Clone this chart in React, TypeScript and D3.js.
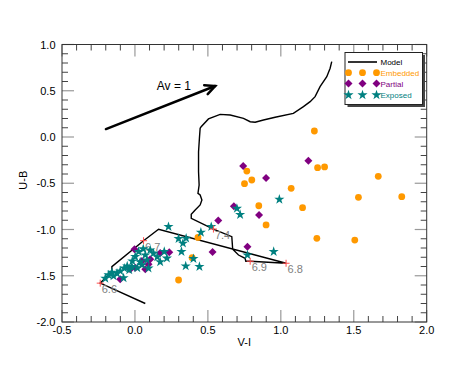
import React from "react";
import * as d3 from "d3";

const modelX = [0.071, -0.238, -0.169, -0.158, -0.158, 0.059, 0.162, 1.036, 0.790, 0.760, 0.755, 0.710, 0.670, 0.664, 0.538, 0.386, 0.386, 0.413, 0.447, 0.459, 0.447, 0.432, 0.440, 0.436, 0.436, 0.442, 0.447, 0.454, 0.504, 0.584, 0.653, 0.744, 0.790, 0.824, 0.881, 0.961, 1.086, 1.155, 1.201, 1.235, 1.269, 1.315, 1.338, 1.349];
const modelY = [-1.80, -1.58, -1.474, -1.438, -1.402, -1.121, -0.998, -1.365, -1.343, -1.343, -1.311, -1.276, -1.214, -1.078, -0.995, -0.879, -0.836, -0.789, -0.735, -0.681, -0.627, -0.609, -0.519, -0.375, -0.159, -0.014, 0.094, 0.111, 0.195, 0.245, 0.238, 0.202, 0.165, 0.159, 0.184, 0.213, 0.256, 0.328, 0.382, 0.436, 0.544, 0.652, 0.743, 0.814];

const ageLabels = ["6.6", "6.7", "6.8", "6.9", "7.4"];
const ageX = [-0.238, 0.059, 1.036, 0.790, 0.538];
const ageY = [-1.58, -1.121, -1.365, -1.343, -0.995];

const embX = [1.230, 0.767, 1.252, 1.300, 0.801, 0.751, 1.071, 1.668, 1.532, 1.829, 0.849, 1.149, 0.899, 1.247, 1.507, 0.432, 0.392, 0.299];
const embY = [0.065, -0.368, -0.332, -0.324, -0.465, -0.505, -0.555, -0.425, -0.652, -0.645, -0.743, -0.764, -0.951, -1.095, -1.114, -1.086, -1.305, -1.546];

const parX = [0.742, 1.189, 0.899, 0.678, 0.851, 0.571, 0.771, 0.532, -0.003, 0.048, 0.071, 0.002, -0.032, -0.101, 0.105, 0.173, 0.235, 0.093];
const parY = [-0.314, -0.256, -0.443, -0.749, -0.843, -0.903, -1.186, -1.243, -1.214, -1.341, -1.430, -1.413, -1.430, -1.538, -1.322, -1.254, -1.246, -1.376];

const expX = [0.990, 0.699, 0.721, 0.523, 0.452, 0.951, 0.771, 0.230, 0.299, 0.351, 0.329, 0.319, 0.401, 0.348, 0.442, 0.201, 0.219,
  -0.203, -0.181, -0.158, -0.147, -0.123, -0.101, -0.078, -0.073, -0.053, -0.021, -0.039, 0.002, 0.025, 0.036, 0.071, 0.082, 0.093, 0.048, 0.127, 0.105, 0.057, 0.153, 0.173, 0.016, -0.018];
const expY = [-0.674, -0.773, -0.840, -0.970, -1.032, -1.240, -1.276, -0.970, -1.099, -1.095, -1.149, -1.240, -1.316, -1.395, -1.402, -1.240, -1.311,
  -1.528, -1.492, -1.465, -1.503, -1.474, -1.449, -1.524, -1.419, -1.395, -1.402, -1.438, -1.294, -1.240, -1.351, -1.276, -1.330, -1.419, -1.384, -1.257, -1.222, -1.211, -1.297, -1.351, -1.416, -1.341];

const arrowX = [-0.199, 0.550];
const arrowY = [0.086, 0.551];

const xTicks = [-0.5, 0.0, 0.5, 1.0, 1.5, 2.0];
const yTicks = [1.0, 0.5, 0.0, -0.5, -1.0, -1.5, -2.0];

const legendNames = ["Model", "Embedded", "Partial", "Exposed"];

const W = 463, H = 371;
const L = 62, R = 426.7, T = 44.5, B = 322;
const ORANGE = "#ff9900", PURPLE = "#800080", TEAL = "#008080";
const FONT = "'Liberation Sans', Arial, Helvetica, sans-serif";

const x = d3.scaleLinear().domain([-0.5, 2.0]).range([L, R]);
const y = d3.scaleLinear().domain([-2.0, 1.0]).range([B, T]);

const starPath = d3.symbol().type(d3.symbolStar).size(32)() as string;
const diamondPath = (r: number) => `M0,${-r}L${r},0L0,${r}L${-r},0Z`;

function Circle({ cx, cy }: { cx: number; cy: number }) {
  return <circle cx={cx} cy={cy} r={3.4} fill={ORANGE} />;
}
function Diamond({ cx, cy }: { cx: number; cy: number }) {
  return <path transform={`translate(${cx},${cy})`} d={diamondPath(4)} fill={PURPLE} />;
}
function Star({ cx, cy }: { cx: number; cy: number }) {
  return <path transform={`translate(${cx},${cy})`} d={starPath} fill={TEAL} />;
}

export default function App() {
  const line = d3.line<number>().x((_, i) => x(modelX[i])).y((_, i) => y(modelY[i]));
  const modelPath = line(modelX) as string;

  const minorX = d3.range(-5, 21).map((k) => k / 10);
  const minorY = d3.range(-20, 11).map((k) => k / 10);
  const isMajor = (v: number) => Math.abs(v * 2 - Math.round(v * 2)) < 1e-6;

  const ax0 = x(arrowX[0]), ay0 = y(arrowY[0]), ax1 = x(arrowX[1]), ay1 = y(arrowY[1]);
  const ang = Math.atan2(ay1 - ay0, ax1 - ax0);
  const hl = 11, ha = 0.45;
  const h1 = [ax1 - hl * Math.cos(ang - ha), ay1 - hl * Math.sin(ang - ha)];
  const h2 = [ax1 - hl * Math.cos(ang + ha), ay1 - hl * Math.sin(ang + ha)];

  const lgX = 345, lgY = 52.5, lgW = 77.5, lgH = 52;
  const rowY = [62, 72.7, 83.5, 95];
  const mk = [348.5, 362.5, 376.5];

  return (
    <svg width={W} height={H} style={{ position: "absolute", left: 0, top: 0, display: "block", background: "#fff" }} fontFamily={FONT}>
      {minorX.map((v, i) => {
        const major = isMajor(v);
        const len = major ? 12 : 6;
        const c = major ? "#999" : "#444";
        return (
          <g key={"xt" + i} stroke={c} strokeWidth={major ? 1.2 : 1}>
            <line x1={x(v)} x2={x(v)} y1={B} y2={B - len} />
            <line x1={x(v)} x2={x(v)} y1={T} y2={T + len} />
          </g>
        );
      })}
      {minorY.map((v, i) => {
        const major = isMajor(v);
        const len = major ? 12 : 6;
        const c = major ? "#999" : "#444";
        return (
          <g key={"yt" + i} stroke={c} strokeWidth={major ? 1.2 : 1}>
            <line x1={L} x2={L + len} y1={y(v)} y2={y(v)} />
            <line x1={R} x2={R - len} y1={y(v)} y2={y(v)} />
          </g>
        );
      })}
      <rect x={L} y={T} width={R - L} height={B - T} fill="none" stroke="#333" strokeWidth={1} />

      {xTicks.map((v) => (
        <text key={"xl" + v} x={x(v)} y={334} textAnchor="middle" fontSize={11} fill="#000">{v.toFixed(1)}</text>
      ))}
      {yTicks.map((v) => (
        <text key={"yl" + v} x={55.5} y={y(v) + 4} textAnchor="end" fontSize={11} fill="#000">{v.toFixed(1)}</text>
      ))}
      <text x={(L + R) / 2} y={346} textAnchor="middle" fontSize={11} fill="#000">V-I</text>
      <text transform={`translate(27,${(T + B) / 2 - 3}) rotate(-90)`} textAnchor="middle" fontSize={11} fill="#000">U-B</text>

      <g stroke="#000" strokeWidth={2.5} fill="none" strokeLinecap="round">
        <line x1={ax0} y1={ay0} x2={ax1} y2={ay1} />
        <polyline points={`${h1[0]},${h1[1]} ${ax1},${ay1} ${h2[0]},${h2[1]}`} strokeLinejoin="miter" />
      </g>
      <text x={x(0.267)} y={y(0.508)} textAnchor="middle" fontSize={12} fill="#000">Av = 1</text>

      <path d={modelPath} fill="none" stroke="#000" strokeWidth={1.4} />
      {ageLabels.map((lab, i) => (
        <text key={"al" + i} x={x(ageX[i]) + 1.5} y={y(ageY[i]) + 10} fontSize={11} fill="#808080">{lab}</text>
      ))}

      {embX.map((v, i) => <Circle key={"e" + i} cx={x(v)} cy={y(embY[i])} />)}
      {parX.map((v, i) => <Diamond key={"p" + i} cx={x(v)} cy={y(parY[i])} />)}
      {expX.map((v, i) => <Star key={"s" + i} cx={x(v)} cy={y(expY[i])} />)}

      {ageX.map((v, i) => (
        <g key={"ac" + i} stroke="#ff4d4d" strokeWidth={1}>
          <line x1={x(v) - 3.5} x2={x(v) + 3.5} y1={y(ageY[i])} y2={y(ageY[i])} />
          <line x1={x(v)} x2={x(v)} y1={y(ageY[i]) - 3.5} y2={y(ageY[i]) + 3.5} />
        </g>
      ))}

      <rect x={lgX + 2.5} y={lgY + 2.5} width={lgW} height={lgH} fill="#444" />
      <rect x={lgX} y={lgY} width={lgW} height={lgH} fill="#fff" stroke="#222" strokeWidth={1} />
      <line x1={348} x2={377} y1={rowY[0]} y2={rowY[0]} stroke="#000" strokeWidth={1.6} />
      {mk.map((m, i) => <Circle key={"lc" + i} cx={m} cy={rowY[1]} />)}
      {mk.map((m, i) => <Diamond key={"ld" + i} cx={m} cy={rowY[2]} />)}
      {mk.map((m, i) => <Star key={"ls" + i} cx={m} cy={rowY[3]} />)}
      {legendNames.map((n, i) => (
        <text key={"ln" + i} x={380.5} y={rowY[i] + 3} fontSize={8} fill={["#000", ORANGE, PURPLE, TEAL][i]}>{n}</text>
      ))}
    </svg>
  );
}
